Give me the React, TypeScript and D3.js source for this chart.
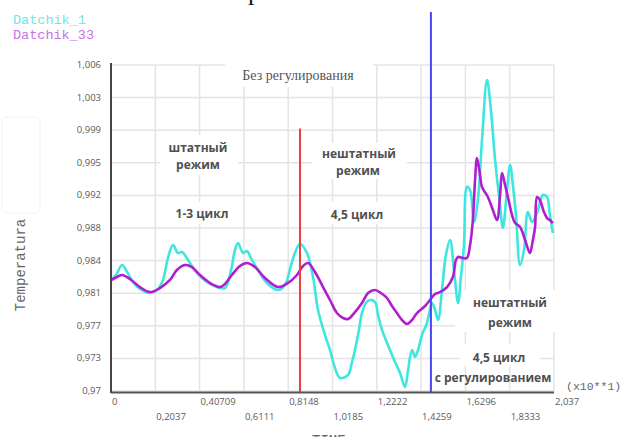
import React, { useRef, useEffect } from 'react';
import * as d3 from 'd3';

// time axis (x10**1)
const xTickValues = [0, 0.2037, 0.4074, 0.6111, 0.8148, 1.0185, 1.2222, 1.4259, 1.6296, 1.8333, 2.037];
const xTickLabels = ['0', '0,2037', '0,40709', '0,6111', '0,8148', '1,0185', '1,2222', '1,4259', '1,6296', '1,8333', '2,037'];
const yTickLabels = ['0,97', '0,973', '0,977', '0,981', '0,984', '0,988', '0,992', '0,995', '0,999', '1,003', '1,006'];

const datchik1Time = [
  0, 0.023, 0.051, 0.074, 0.101, 0.133, 0.179, 0.212, 0.239, 0.262, 0.285, 0.308, 0.326, 0.363, 0.395,
  0.441, 0.487, 0.524, 0.552, 0.57, 0.584, 0.607, 0.625, 0.648, 0.676, 0.717, 0.768, 0.8, 0.828, 0.846,
  0.869, 0.901, 0.929, 0.952, 0.984, 1.007, 1.03, 1.053, 1.09, 1.108, 1.122, 1.14, 1.154, 1.172, 1.191,
  1.214, 1.228, 1.246, 1.283, 1.306, 1.329, 1.352, 1.366, 1.384, 1.398, 1.412, 1.43, 1.453, 1.476, 1.49,
  1.504, 1.522, 1.54, 1.559, 1.577, 1.596, 1.609, 1.623, 1.637, 1.651, 1.669, 1.687, 1.706, 1.729, 1.747,
  1.766, 1.789, 1.802, 1.821, 1.835, 1.848, 1.862, 1.881, 1.899, 1.917, 1.936, 1.959, 1.986, 2.005, 2.018, 2.032
];
const datchik1Temp = [
  0.98226, 0.98281, 0.98391, 0.98314, 0.98204, 0.98126, 0.98082, 0.98115, 0.98226, 0.98469, 0.98612, 0.98524, 0.98535, 0.98414, 0.98303,
  0.98204, 0.98148, 0.98137, 0.98336, 0.98557, 0.98634, 0.98525, 0.98546, 0.98447, 0.98336, 0.98193, 0.98115, 0.98171, 0.98391, 0.98524,
  0.98623, 0.98524, 0.98259, 0.97894, 0.97618, 0.97453, 0.97254, 0.97144, 0.97177, 0.9732, 0.97453, 0.97674, 0.97861, 0.97972, 0.98005,
  0.97983, 0.97839, 0.97674, 0.97453, 0.9732, 0.97199, 0.97044, 0.97232, 0.97453, 0.97375, 0.97453, 0.97618, 0.97751, 0.97972, 0.97894,
  0.97784, 0.98115, 0.98502, 0.98668, 0.98336, 0.97972, 0.98259, 0.98612, 0.99253, 0.9922, 0.98866, 0.99109, 0.99772, 1.00434, 1.00103,
  0.99551, 0.99054, 0.988, 0.9922, 0.99496, 0.99275, 0.98944, 0.98391, 0.98557, 0.98977, 0.98866, 0.98966, 0.99164, 0.99142, 0.98944, 0.98745
];

const datchik33Time = [
  0, 0.028, 0.051, 0.087, 0.133, 0.179, 0.225, 0.271, 0.303, 0.34, 0.372, 0.409, 0.455, 0.501, 0.524,
  0.556, 0.593, 0.625, 0.662, 0.708, 0.768, 0.814, 0.855, 0.883, 0.906, 0.938, 0.975, 1.007, 1.039, 1.067,
  1.09, 1.122, 1.154, 1.182, 1.214, 1.241, 1.269, 1.292, 1.315, 1.338, 1.361, 1.384, 1.407, 1.444, 1.467,
  1.49, 1.513, 1.545, 1.572, 1.586, 1.596, 1.618, 1.637, 1.651, 1.664, 1.674, 1.683, 1.697, 1.706, 1.733,
  1.756, 1.775, 1.789, 1.798, 1.812, 1.825, 1.844, 1.858, 1.881, 1.904, 1.926, 1.94, 1.95, 1.959, 1.972,
  1.991, 2.005, 2.018, 2.032
];
const datchik33Temp = [
  0.98226, 0.98259, 0.98281, 0.98237, 0.98148, 0.98093, 0.98137, 0.98226, 0.98336, 0.98391, 0.98369, 0.98281, 0.98193, 0.98148, 0.98182,
  0.98281, 0.9838, 0.98414, 0.98369, 0.98248, 0.98148, 0.98193, 0.98281, 0.9838, 0.98414, 0.98314, 0.98148, 0.98005, 0.97861, 0.97806,
  0.97795, 0.97872, 0.97972, 0.98082, 0.98115, 0.98082, 0.98027, 0.97939, 0.97861, 0.97784, 0.9774, 0.97784, 0.97861, 0.97939, 0.98005,
  0.98071, 0.98093, 0.98148, 0.98259, 0.98447, 0.9848, 0.98469, 0.98469, 0.98612, 0.98888, 0.9933, 0.99573, 0.99385, 0.99253, 0.99142,
  0.98999, 0.98888, 0.99164, 0.99407, 0.99275, 0.99142, 0.98944, 0.98855, 0.98811, 0.98668, 0.98524, 0.98668, 0.98811, 0.99142, 0.99109,
  0.98977, 0.9891, 0.98888, 0.98855
];

const redLineTime = 0.869;
const redLineTop = 0.999;
const blueLineTime = 1.471;

const TemperatureChart = () => {
  const svgRef = useRef<SVGSVGElement>(null);

  useEffect(() => {
    const width = 623;
    const height = 437;
    const svg = d3.select(svgRef.current).attr('width', width).attr('height', height);
    svg.selectAll('*').remove();

    const xScale = d3.scaleLinear().domain([0, 2.037]).range([111, 554]);
    const yScale = d3.scaleLinear().domain([0.97, 1.006]).range([391, 65]);
    const yTicks = d3.range(11).map(i => 0.97 + i * 0.0036);

    const grey = '#5a5a5a';
    const sans = '"Open Sans", sans-serif';
    const mono = '"Liberation Mono", "DejaVu Sans Mono", monospace';

    // grid
    svg.append('g')
      .selectAll('line')
      .data(yTicks)
      .enter()
      .append('line')
      .attr('x1', xScale(0)).attr('x2', xScale(2.037))
      .attr('y1', d => yScale(d)).attr('y2', d => yScale(d))
      .attr('stroke', '#e4e4e4').attr('stroke-width', 1.5);
    svg.append('g')
      .selectAll('line')
      .data(xTickValues.slice(1))
      .enter()
      .append('line')
      .attr('x1', d => xScale(d)).attr('x2', d => xScale(d))
      .attr('y1', yScale(1.006)).attr('y2', yScale(0.97))
      .attr('stroke', '#e4e4e4').attr('stroke-width', 1.5);

    // white boxes behind annotations
    const boxes = [
      [225, 63, 148, 24], [160, 135, 78, 40], [165, 202, 75, 22],
      [312, 143, 95, 36], [318, 202, 80, 22], [455, 290, 105, 42], [460, 344, 80, 22]
    ];
    svg.append('g')
      .selectAll('rect')
      .data(boxes)
      .enter()
      .append('rect')
      .attr('x', d => d[0]).attr('y', d => d[1])
      .attr('width', d => d[2]).attr('height', d => d[3])
      .attr('fill', '#fff');

    // series
    const line = d3.line<[number, number]>()
      .x(d => xScale(d[0]))
      .y(d => yScale(d[1]))
      .curve(d3.curveCatmullRom.alpha(0.5));

    const s1 = datchik1Time.map((t, i) => [t, datchik1Temp[i]] as [number, number]);
    const s33 = datchik33Time.map((t, i) => [t, datchik33Temp[i]] as [number, number]);

    svg.append('path').datum(s1).attr('d', line)
      .attr('fill', 'none').attr('stroke', '#3ee6e0').attr('stroke-width', 2.6);
    svg.append('path').datum(s33).attr('d', line)
      .attr('fill', 'none').attr('stroke', '#b01ed0').attr('stroke-width', 2.6);

    // markers
    svg.append('line')
      .attr('x1', xScale(redLineTime)).attr('x2', xScale(redLineTime))
      .attr('y1', yScale(redLineTop)).attr('y2', yScale(0.97) + 1)
      .attr('stroke', '#e8403c').attr('stroke-width', 2);
    svg.append('line')
      .attr('x1', xScale(blueLineTime)).attr('x2', xScale(blueLineTime))
      .attr('y1', 12).attr('y2', yScale(0.97) + 1)
      .attr('stroke', '#4646ee').attr('stroke-width', 2);

    // axes
    svg.append('line')
      .attr('x1', xScale(0)).attr('x2', xScale(0))
      .attr('y1', yScale(1.006) - 2).attr('y2', yScale(0.97) + 2)
      .attr('stroke', '#444').attr('stroke-width', 2);
    svg.append('line')
      .attr('x1', xScale(0)).attr('x2', xScale(2.037))
      .attr('y1', yScale(0.97) + 1.5).attr('y2', yScale(0.97) + 1.5)
      .attr('stroke', '#555').attr('stroke-width', 2);

    svg.append('g')
      .selectAll('text')
      .data(yTicks)
      .enter()
      .append('text')
      .attr('x', 101)
      .attr('y', d => yScale(d) + 3)
      .attr('text-anchor', 'end')
      .style('font-family', sans).style('font-size', '9.5px').attr('fill', grey)
      .text((d, i) => yTickLabels[i]);

    svg.append('g')
      .selectAll('text')
      .data(xTickValues)
      .enter()
      .append('text')
      .attr('x', d => xScale(d) + 1)
      .attr('y', (d, i) => (i % 2 === 0 ? 405 : 420))
      .style('font-family', sans).style('font-size', '9.5px').attr('fill', grey)
      .text((d, i) => xTickLabels[i]);

    // annotations
    const bold = (x: number, y: number, t: string, size = 12) =>
      svg.append('text').attr('x', x).attr('y', y).attr('text-anchor', 'middle')
        .style('font-family', sans).style('font-weight', 'bold').style('font-size', `${size}px`)
        .attr('fill', '#505050').text(t);

    svg.append('text').attr('x', 298).attr('y', 80).attr('text-anchor', 'middle')
      .style('font-family', '"Liberation Serif", serif').style('font-size', '14px')
      .attr('fill', '#555').text('Без регулирования');
    bold(198, 152, 'штатный');
    bold(198, 169, 'режим');
    bold(202, 218, '1-3 цикл');
    bold(359, 158, 'нештатный');
    bold(358, 175, 'режим');
    bold(357, 219, '4,5 цикл');
    bold(510, 307, 'нештатный');
    bold(510, 327, 'режим');
    bold(499, 362, '4,5 цикл');
    bold(493, 382, 'с регулированием');

    svg.append('text').attr('x', 566).attr('y', 390)
      .style('font-family', mono).style('font-size', '11.5px').attr('fill', '#666').text('(x10**1)');

    // axis title, cut by the bottom edge as in the original
    svg.append('text').attr('x', 312).attr('y', 445)
      .style('font-family', mono).style('font-size', '14px').attr('fill', '#666').text('TIME');

    svg.append('rect').attr('x', 2).attr('y', 117).attr('width', 38).attr('height', 96)
      .attr('rx', 5).attr('fill', 'none').attr('stroke', '#f2f2f2');
    svg.append('text')
      .attr('transform', 'translate(25,265) rotate(-90)')
      .attr('text-anchor', 'middle')
      .style('font-family', mono).style('font-size', '14px').attr('fill', '#666')
      .text('Temperatura');

    // legend
    svg.append('text').attr('x', 13).attr('y', 24)
      .style('font-family', mono).style('font-size', '13.5px').attr('fill', '#6ee8e8').text('Datchik_1');
    svg.append('text').attr('x', 13).attr('y', 39)
      .style('font-family', mono).style('font-size', '13.5px').attr('fill', '#c870e8').text('Datchik_33');

    // cut-off title glyph at the top edge
    svg.append('text').attr('x', 248).attr('y', 0)
      .style('font-family', '"Liberation Serif", serif').style('font-size', '26px')
      .attr('fill', '#111').text('р');
  }, []);

  return (
    <div style={{ position: 'absolute', left: 0, top: 0, width: 623, height: 437, background: '#fff' }}>
      <svg ref={svgRef}></svg>
    </div>
  );
};

export default function App() {
  return <TemperatureChart />;
}
